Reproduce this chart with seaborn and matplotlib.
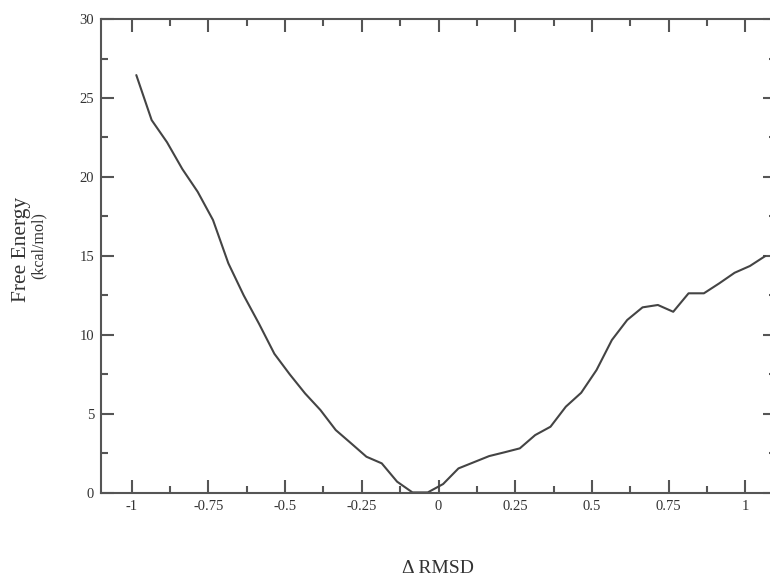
import numpy as np
import pandas as pd
import matplotlib
matplotlib.use("Agg")
import matplotlib.pyplot as plt
import seaborn as sns
from matplotlib.ticker import MultipleLocator

# reaction coordinate (bin centres) and free energy
rmsd = [-0.985, -0.935, -0.885, -0.835, -0.785, -0.735, -0.685, -0.635,
        -0.585, -0.535, -0.485, -0.435, -0.385, -0.335, -0.285, -0.235,
        -0.185, -0.135, -0.085, -0.035, 0.015, 0.065, 0.115, 0.165,
        0.215, 0.265, 0.315, 0.365, 0.415, 0.465, 0.515, 0.565,
        0.615, 0.665, 0.715, 0.765, 0.815, 0.865, 0.915, 0.965,
        1.015, 1.065]
energy = [26.45, 23.6, 22.2, 20.5, 19.06, 17.27, 14.53, 12.5,
          10.7, 8.8, 7.5, 6.29, 5.24, 3.97, 3.13, 2.28,
          1.86, 0.70, 0.02, 0.02, 0.55, 1.54, 1.93, 2.32,
          2.56, 2.81, 3.65, 4.18, 5.45, 6.33, 7.77, 9.67,
          10.94, 11.74, 11.89, 11.46, 12.63, 12.63, 13.26, 13.93,
          14.36, 14.99]

xticks = [-1, -0.75, -0.5, -0.25, 0, 0.25, 0.5, 0.75, 1]
xtick_labels = ["-1", "-0.75", "-0.5", "-0.25", "0", "0.25", "0.5", "0.75", "1"]
yticks = [0, 5, 10, 15, 20, 25, 30]

df = pd.DataFrame({"rmsd": rmsd, "energy": energy})

sns.set_style("ticks")
plt.rcParams['font.family'] = ['Liberation Serif', 'DejaVu Serif']

fig = plt.figure(figsize=(7.7, 5.84), dpi=100)
ax = fig.add_axes([0.1312, 0.1563, 0.8766, 0.8111])

sns.lineplot(data=df, x="rmsd", y="energy", ax=ax, color="#444444",
             linewidth=1.5, estimator=None, sort=False)

ax.set_xlim(-1.1, 1.1)
ax.set_ylim(0, 30)
ax.set_xticks(xticks)
ax.set_xticklabels(xtick_labels)
ax.set_yticks(yticks)
ax.xaxis.set_minor_locator(MultipleLocator(0.125))
ax.yaxis.set_minor_locator(MultipleLocator(2.5))
ax.set_xlabel("")
ax.set_ylabel("")

for s in ax.spines.values():
    s.set_visible(True)
    s.set_color("#555555")
    s.set_linewidth(1.5)

ax.tick_params(which="both", direction="in", top=True, right=True,
               color="#555555", width=1.5, labelsize=10.5, labelcolor="#333333")
ax.tick_params(which="major", length=9.5, pad=5)
ax.tick_params(which="minor", length=5)

fig.text(0.0273, 0.5736, "Free Energy", rotation=90, ha="center", va="center",
         fontsize=15.5, color="#333333")
fig.text(0.0506, 0.5788, "(kcal/mol)", rotation=90, ha="center", va="center",
         fontsize=11.5, color="#333333")
fig.text(0.569, 0.027, "\u0394 RMSD", ha="center", va="center",
         fontsize=14, color="#333333")

fig.savefig("out.png", dpi=100)
